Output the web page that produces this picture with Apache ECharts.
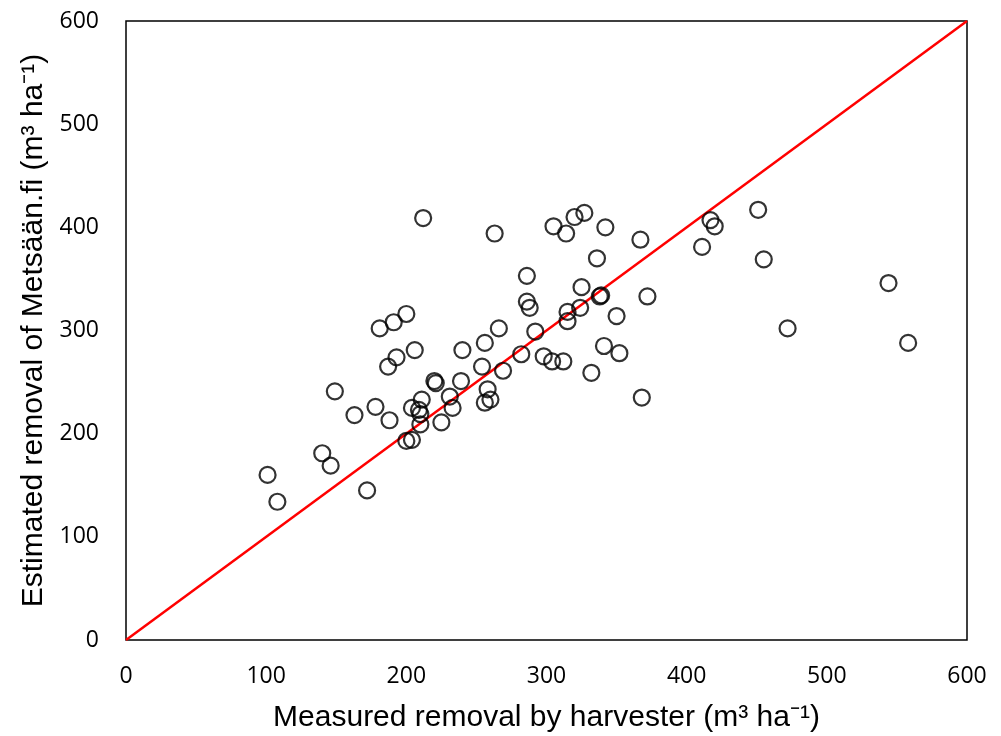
<!DOCTYPE html>
<html>
<head>
<meta charset="utf-8">
<script src="https://cdn.jsdelivr.net/npm/echarts@6/dist/echarts.min.js"></script>
<style>
  html, body { margin: 0; padding: 0; background: #fff; }
  #chart { width: 1001px; height: 736px; }
</style>
</head>
<body>
<div id="chart"></div>
<script>
// measured removal by harvester (x) and estimated removal of Metsään.fi (y), m3/ha
const measured = [
  101, 108, 140, 146, 149, 163, 172, 178, 181, 187, 188, 191, 193, 200, 200,
  204, 204, 206, 209, 210, 210, 211, 212, 220, 221, 225, 231, 233, 239, 240,
  254, 256, 256, 258, 260, 263, 266, 269, 282, 286, 286, 288, 292, 298, 304,
  305, 312, 314, 315, 315, 320, 324, 325, 327, 332, 336, 338, 339, 341, 342,
  350, 352, 367, 368, 372, 411, 417, 420, 451, 455, 472, 544, 558
]
const estimated = [
  160, 134, 181, 169, 241, 218, 145, 226, 302, 265, 213, 308, 274, 316, 193,
  194, 225, 281, 223, 209, 219, 233, 409, 251, 249, 211, 236, 225, 251, 281,
  265, 288, 230, 243, 233, 394, 302, 261, 277, 353, 328, 322, 299, 275, 270,
  401, 270, 394, 309, 318, 410, 322, 342, 414, 259, 370, 333, 334, 285, 400,
  314, 278, 388, 235, 333, 381, 407, 401, 417, 369, 302, 346, 288
]
const identityLine = [[0, 0], [600, 600]]
const axisMin = 0
const axisMax = 600
const axisStep = 100

const points = measured.map((x, i) => [x, estimated[i]])

const chart = echarts.init(document.getElementById('chart'))
chart.setOption({
  animation: false,
  grid: {
    left: 126,
    right: 34,
    top: 21,
    bottom: 96,
    outerBoundsMode: 'none',
    show: true,
    borderColor: '#000',
    borderWidth: 1.5
  },
  xAxis: {
    type: 'value',
    min: axisMin,
    max: axisMax,
    interval: axisStep,
    name: 'Measured removal by harvester (m³ ha⁻¹)',
    nameLocation: 'middle',
    nameGap: 63,
    nameTextStyle: { fontFamily: 'Liberation Sans', fontSize: 30, color: '#000' },
    axisLine: { show: false },
    axisTick: { show: false },
    splitLine: { show: false },
    axisLabel: { margin: 25, fontFamily: 'Open Sans', fontSize: 23, color: '#000' }
  },
  yAxis: {
    type: 'value',
    min: axisMin,
    max: axisMax,
    interval: axisStep,
    name: 'Estimated removal of Metsään.fi (m³ ha⁻¹)',
    nameLocation: 'middle',
    nameGap: 74,
    nameTextStyle: { fontFamily: 'Liberation Sans', fontSize: 30, color: '#000' },
    axisLine: { show: false },
    axisTick: { show: false },
    splitLine: { show: false },
    axisLabel: { margin: 27, fontFamily: 'Open Sans', fontSize: 23, color: '#000' }
  },
  series: [
    {
      type: 'line',
      data: identityLine,
      symbol: 'none',
      lineStyle: { color: '#ff0000', width: 2.5 },
      z: 3
    },
    {
      type: 'scatter',
      data: points,
      symbol: 'circle',
      symbolSize: 16,
      itemStyle: { color: 'rgba(255,255,255,0)', borderColor: '#000', borderWidth: 2.2 },
      z: 4
    }
  ]
})
</script>
</body>
</html>
